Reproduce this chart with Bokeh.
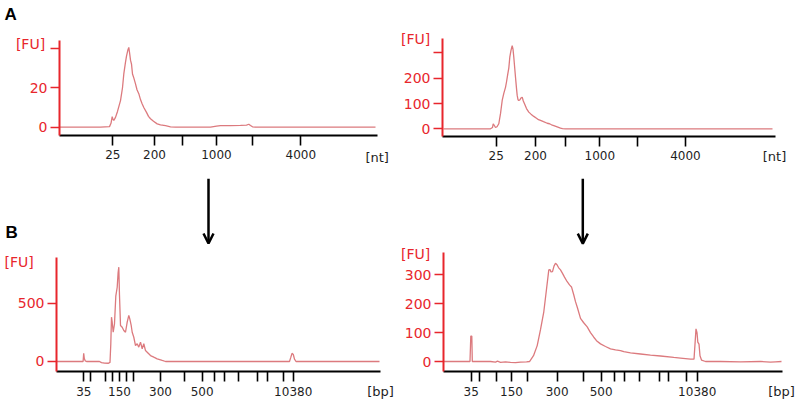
from bokeh.plotting import figure
from bokeh.layouts import column, row
from bokeh.models import Range1d, LinearAxis, FixedTicker, Label, Arrow, OpenHead
from bokeh.embed import file_html
from bokeh.resources import INLINE

RED = "#e8262c"
TRACE = "#dc7a7e"
INK = "#1e1e1e"
FONT = "DejaVu Sans"

# ---------------- data (x = migration position, arbitrary units from run start) ----------------
# Panel A, left (RNA, nt)
a1_x = [0, 41, 50, 51.5, 52.7, 53.5, 54.3, 56, 58, 61, 63, 64.3, 66, 67, 68.3, 69.3, 70, 71, 72, 73,
        74.3, 76, 77.5, 79.3, 81, 82.5, 84.3, 87, 89, 91, 94, 97.7, 101, 106, 111, 116, 151, 157, 161,
        171, 181, 187, 189.3, 191, 193, 196, 316]
a1_y = [0, 0, 0.3, 2, 5.4, 4, 3.4, 5, 8, 13.5, 20, 27, 33, 36, 39, 40.5, 38, 34, 32, 27,
        25, 22, 19, 17, 14, 12, 10, 7.5, 5.5, 4.3, 3, 1.7, 1.2, 0.8, 0.2, 0, 0, 0.5, 0.8,
        0.8, 0.9, 1.1, 1.5, 0.9, 0.2, 0, 0]
a1_ladder_pos = [53.3, 95, 123.3, 157, 193.3, 241.3]

# Panel A, right (RNA, nt)
a2_x = [1, 48, 50, 50.7, 52, 53, 54.5, 56.3, 58, 59.7, 61.3, 63, 64, 65.3, 66.3, 67.3, 68.5, 69.7,
        70.5, 71.3, 72, 73, 74, 74.7, 75.5, 76.3, 77.5, 78.5, 79.7, 80.8, 82, 84, 86.3, 88.5, 91.3,
        94, 96, 98, 101, 104.7, 107, 109, 111.3, 114, 116, 118, 120, 123, 330]
a2_y = [0, 0, 5, 20, 12, 5, 8, 20, 60, 112, 140, 164, 185, 217, 240, 283, 310, 329,
        315, 283, 250, 204, 160, 132, 115, 112, 115, 122, 125, 110, 99, 80, 66, 58, 49,
        42, 36, 33, 28, 22, 20, 16, 13, 9, 6, 3, 1, 0, 0]
a2_ladder_pos = [53.7, 93, 122.7, 157.3, 195.3, 243]

rna_ladder = [25, 200, 500, 1000, 2000, 4000]
rna_shown = [25, 200, 1000, 4000]

# Panel B, left (DNA, bp)
b1_x = [0.5, 26.6, 27.2, 27.8, 28.8, 30, 43, 45, 48, 52, 53.5, 54.3, 55, 55.7, 56.7, 58, 59.3, 60.7,
        61.6, 62.3, 63, 64, 65.7, 67.3, 69, 70.7, 72.3, 73.3, 74.7, 75.7, 77.3, 79, 80.7, 82.3, 84,
        85.7, 87.3, 89, 90.7, 94, 97.3, 100.7, 105.7, 109, 233, 234.3, 235.5, 236.8, 238, 239.5, 323]
b1_y = [0, 0, 70, 25, 5, 0, 0, -10, -14, -15, -8, 150, 380, 337, 251, 323, 560, 637,
        760, 809, 566, 309, 294, 266, 251, 337, 395, 366, 309, 251, 208, 137, 152, 123, 166,
        109, 152, 94, 80, 51, 37, 23, 9, 0, 0, 35, 70, 60, 20, 0, 0]
b1_ladder = [35, 50, 75, 100, 150, 200, 250, 300, 400, 500, 600, 700, 1000, 2000, 3000, 7000, 10380]
b1_ladder_pos = [27.3, 34, 49, 55.7, 63, 70, 77.3, 104, 128, 145.7, 158, 168, 181.7, 201.3, 211.3,
                 227.3, 236.7]

# Panel B, right (DNA, bp)
b2_x = [0.5, 26.5, 27.3, 28.3, 28.8, 47, 52, 54, 57, 62, 67, 72, 77, 83, 86, 90, 93.7, 97, 100.3,
        103, 105.3, 106.5, 107.5, 109, 110.5, 112, 113.5, 115, 117, 119, 121, 123.7, 126, 128,
        130.3, 132, 134, 137, 140, 143.7, 147, 150.3, 153, 157, 162, 167, 172, 177, 180.3, 187,
        197, 207, 217, 230.3, 237, 247, 250.5, 251.5, 252.5, 253.5, 254.3, 255.5, 256.5, 258,
        262, 277, 297, 317, 327, 332, 338]
b2_y = [0, 0, 88, 88, 0, 0, -2, 1, -3, -1, -3, -4, -2, -1, 0, 20, 55, 110, 172,
        250, 317, 318, 310, 311, 330, 340, 335, 325, 317, 305, 292, 276, 265, 258,
        230, 207, 185, 149, 135, 120, 100, 84, 72, 61, 52, 44, 40, 38, 34, 30,
        26, 22, 19, 14, 12, 8, 8, 60, 113, 100, 67, 60, 20, 5,
        0, 0, -1, 0, -2, -1, 0]
b2_ladder = [35, 50, 100, 150, 200, 300, 400, 500, 600, 700, 1000, 2000, 3000, 7000, 10380]
b2_ladder_pos = [27.7, 36, 53, 68, 83.7, 113.7, 139.7, 157.7, 171, 181.3, 196, 216, 225.3, 242.7,
                 253.7]

dna_shown = [35, 150, 300, 500, 10380]


def panel(width, height, xr, yr, x_end, y_floor, y_top, yticks, ytick_hide, xpos, ladder, shown):
    p = figure(width=width, height=height, x_range=Range1d(*xr), y_range=Range1d(*yr),
               output_backend="svg", toolbar_location=None,
               x_axis_location=None, y_axis_location=None,
               min_border_left=0, min_border_right=0, min_border_top=0, min_border_bottom=0)
    p.grid.visible = False
    p.outline_line_color = None
    p.background_fill_color = "white"
    p.border_fill_color = "white"

    xa = LinearAxis(ticker=FixedTicker(ticks=xpos), fixed_location=y_floor, bounds=(0, x_end))
    xa.major_label_overrides = {pos: (str(v) if v in shown else "") for pos, v in zip(xpos, ladder)}
    xa.axis_line_color = "black"
    xa.axis_line_width = 2
    xa.major_tick_line_color = "black"
    xa.major_tick_line_width = 1.6
    xa.major_tick_in = 0
    xa.major_tick_out = 10
    xa.minor_tick_line_color = None
    xa.major_label_text_font = FONT
    xa.major_label_text_font_size = "12px"
    xa.major_label_text_color = INK
    xa.major_label_standoff = 5
    p.add_layout(xa, "below")

    ya = LinearAxis(ticker=FixedTicker(ticks=yticks), fixed_location=0, bounds=(y_floor, y_top))
    ya.major_label_overrides = {t: ("" if t in ytick_hide else str(t)) for t in yticks}
    ya.axis_line_color = RED
    ya.axis_line_width = 2
    ya.major_tick_line_color = RED
    ya.major_tick_line_width = 1.6
    ya.major_tick_in = 0
    ya.major_tick_out = 9
    ya.minor_tick_line_color = None
    ya.major_label_text_font = FONT
    ya.major_label_text_font_size = "14px"
    ya.major_label_text_color = RED
    ya.major_label_standoff = 3
    p.add_layout(ya, "left")
    return p


def lab(p, text, x, y, align="center", color=RED, size="14px", style="normal", font=FONT):
    p.add_layout(Label(x=x, y=y, text=text, text_align=align, text_baseline="middle",
                       text_color=color, text_font_size=size, text_font_style=style,
                       text_font=font))


def arrow(p, x, y0, y1):
    p.add_layout(Arrow(end=OpenHead(size=10, line_color="black", line_width=2.5),
                       x_start=x, y_start=y0, x_end=x, y_end=y1,
                       line_color="black", line_width=2.5))


# ---- A left
a1 = panel(400, 178, (-59, 341), (-26.01, 64.25), 318, -4.2, 44, [0, 20, 40], [40],
           a1_ladder_pos, rna_ladder, rna_shown)
a1.line(a1_x, a1_y, line_color=TRACE, line_width=1.3)
lab(a1, "[FU]", -29, 42.4)
lab(a1, "[nt]", 317.7, -15.4, color=INK, size="13px")
lab(a1, "A", -55, 57.4, align="left", color="black", size="17px", style="bold", font="Liberation Sans")

# ---- A right
a2 = panel(400, 178, (-42, 358), (-196.4, 507.1), 333, -30.4, 355, [0, 100, 200, 300], [300],
           a2_ladder_pos, rna_ladder, rna_shown)
a2.line(a2_x, a2_y, line_color=TRACE, line_width=1.3)
lab(a2, "[FU]", -41.5, 353, align="left")
lab(a2, "[nt]", 332, -109.5, color=INK, size="13px")

# ---- B left
b1 = panel(400, 230, (-56, 344), (-403.1, 1569.5), 324, -85.8, 889, [0, 500], [],
           b1_ladder_pos, b1_ladder, dna_shown)
b1.line(b1_x, b1_y, line_color=TRACE, line_width=1.3)
lab(b1, "[FU]", -52, 857.6, align="left")
lab(b1, "[bp]", 324, -257, color=INK, size="13px")
lab(b1, "B", -51, 1110.6, align="left", color="black", size="17px", style="bold", font="Liberation Sans")
arrow(b1, 152, 1569.5, 1012)

# ---- B right
b2 = panel(400, 230, (-43, 357), (-162.6, 633.2), 339, -34.6, 378, [0, 100, 200, 300], [],
           b2_ladder_pos, b2_ladder, dna_shown)
b2.line(b2_x, b2_y, line_color=TRACE, line_width=1.3)
lab(b2, "[FU]", -42.5, 373.7, align="left")
lab(b2, "[bp]", 338, -103.8, color=INK, size="13px")
arrow(b2, 139.3, 633.2, 408)

layout = column(row(a1, a2), row(b1, b2))
open("out.html", "w").write(file_html(layout, INLINE))
